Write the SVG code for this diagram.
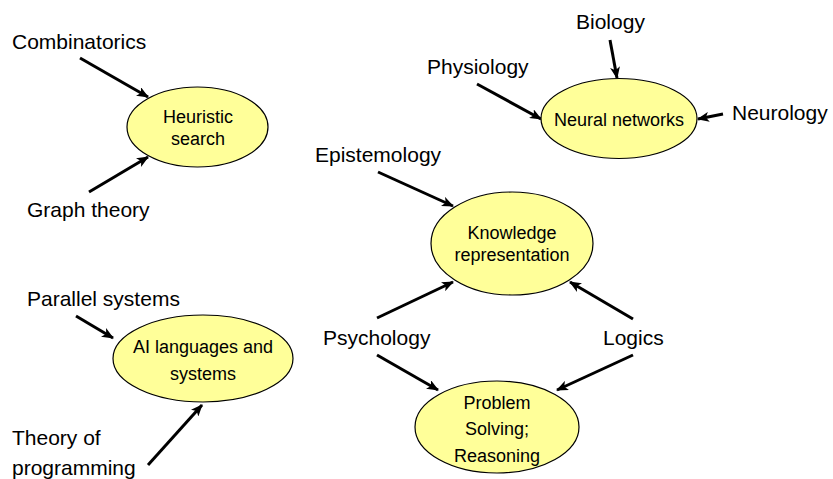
<svg xmlns="http://www.w3.org/2000/svg" width="833" height="479" viewBox="0 0 833 479">
<style>
.lbl{font-family:"Liberation Sans",Arial,sans-serif;font-size:21px;fill:#000}
.nt{font-family:"Liberation Sans",Arial,sans-serif;font-size:18px;fill:#000;text-anchor:middle}
.el{fill:#FFFF99;stroke:#000;stroke-width:1.2}
.ar{stroke:#000;stroke-width:3;fill:none;marker-end:url(#ah)}
</style>
<defs>
<marker id="ah" markerUnits="userSpaceOnUse" markerWidth="12" markerHeight="10" refX="11" refY="5" orient="auto">
<path d="M0,0 L12,5 L0,10 L3,5 Z" fill="#000"/>
</marker>
</defs>
<rect width="833" height="479" fill="#fff"/>
<g id="connectors">
<line class="ar" x1="80" y1="58" x2="148" y2="97"/>
<line class="ar" x1="89" y1="192" x2="148" y2="157"/>
<line class="ar" x1="610" y1="40" x2="617" y2="78"/>
<line class="ar" x1="477" y1="84" x2="541" y2="119"/>
<line class="ar" x1="723" y1="114" x2="698" y2="119"/>
<line class="ar" x1="378" y1="172" x2="453" y2="206"/>
<line class="ar" x1="377" y1="318" x2="453" y2="282"/>
<line class="ar" x1="633" y1="319" x2="570" y2="282"/>
<line class="ar" x1="377" y1="355" x2="438" y2="390"/>
<line class="ar" x1="633" y1="355" x2="557" y2="390"/>
<line class="ar" x1="76" y1="316" x2="113" y2="338"/>
<line class="ar" x1="148" y1="465" x2="202" y2="405"/>
</g>
<g id="heuristic">
<ellipse class="el" cx="197.5" cy="127" rx="70.5" ry="40"/>
<text class="nt" x="198" y="123">Heuristic</text>
<text class="nt" x="198" y="145">search</text>
</g>
<g id="neural">
<ellipse class="el" cx="619" cy="118.5" rx="78" ry="40"/>
<text class="nt" x="619" y="126">Neural networks</text>
</g>
<g id="knowledge">
<ellipse class="el" cx="512" cy="243.5" rx="81" ry="51.5"/>
<text class="nt" x="512" y="239">Knowledge</text>
<text class="nt" x="512" y="261">representation</text>
</g>
<g id="problem">
<ellipse class="el" cx="497" cy="427" rx="82" ry="46"/>
<text class="nt" x="497" y="409">Problem</text>
<text class="nt" x="497" y="435">Solving;</text>
<text class="nt" x="497" y="462">Reasoning</text>
</g>
<g id="ailang">
<ellipse class="el" cx="203" cy="358.5" rx="90" ry="43.5"/>
<text class="nt" x="203" y="353">AI languages and</text>
<text class="nt" x="203" y="380">systems</text>
</g>
<g id="labels">
<text class="lbl" x="12" y="49">Combinatorics</text>
<text class="lbl" x="27" y="217">Graph theory</text>
<text class="lbl" x="576" y="29">Biology</text>
<text class="lbl" x="427" y="74">Physiology</text>
<text class="lbl" x="732" y="120">Neurology</text>
<text class="lbl" x="315" y="162">Epistemology</text>
<text class="lbl" x="323" y="345">Psychology</text>
<text class="lbl" x="603" y="345">Logics</text>
<text class="lbl" x="27" y="306">Parallel systems</text>
<text class="lbl" x="12" y="445">Theory of</text>
<text class="lbl" x="12" y="475">programming</text>
</g>
</svg>
